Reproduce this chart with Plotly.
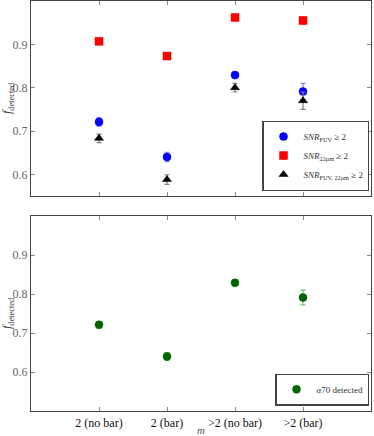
import plotly.graph_objects as go
from plotly.subplots import make_subplots

categories = ["2 (no bar)", "2 (bar)", ">2 (no bar)", ">2 (bar)"]
x_pos = [0, 1, 2, 3]

fuv = [0.721, 0.640, 0.829, 0.791]
fuv_err = [0.010, 0.011, 0.007, 0.019]
w22 = [0.907, 0.873, 0.962, 0.955]
w22_err = [0.004, 0.006, 0.003, 0.008]
both = [0.683, 0.588, 0.800, 0.770]
both_err = [0.010, 0.011, 0.010, 0.020]
a70 = [0.721, 0.640, 0.829, 0.791]
a70_err = [0.008, 0.010, 0.007, 0.019]

font = "Liberation Serif"

fig = make_subplots(rows=2, cols=1, vertical_spacing=0.0488)


def add_points(y, err, color, errcolor, symbol, name, row, legend):
    fig.add_trace(go.Scatter(
        x=x_pos, y=y, mode="markers", name=name,
        marker=dict(color=color, symbol=symbol, size=8,
                    line=dict(color=color, width=0.5)),
        error_y=dict(type="data", array=err, color=errcolor,
                     thickness=1.2, width=2.5),
        legend=legend,
    ), row=row, col=1)


add_points(fuv, fuv_err, "#0000ff", "#7f7fff", "circle",
           "<i>SNR</i><sub>FUV</sub> ≥ 2", 1, "legend")
add_points(w22, w22_err, "#ff0000", "#ff8080", "square",
           "<i>SNR</i><sub>22μm</sub> ≥ 2", 1, "legend")
add_points(both, both_err, "#000000", "#808080", "triangle-up",
           "<i>SNR</i><sub>FUV, 22μm</sub> ≥ 2", 1, "legend")
add_points(a70, a70_err, "#006400", "#6fbf6f", "circle",
           "<i>α</i>70 detected", 2, "legend2")

axis_style = dict(showline=True, linecolor="#444", linewidth=1.2, mirror="ticks",
                  ticks="inside", ticklen=4, tickcolor="#888",
                  showgrid=False, zeroline=False, automargin=False)

fig.update_xaxes(range=[-1, 4], tickvals=x_pos, ticktext=categories, **axis_style)
fig.update_xaxes(showticklabels=False, row=1, col=1)
fig.update_xaxes(title=dict(text="<i>m</i>", standoff=0,
                            font=dict(size=11, color="#555")),
                 tickfont=dict(size=12, color="#111"), row=2, col=1)
fig.update_yaxes(tickvals=[0.6, 0.7, 0.8, 0.9], ticktext=["0.6", "0.7", "0.8", "0.9"],
                 tickfont=dict(size=12, color="#666"),
                 title=dict(text="<i>f</i><sub>detected</sub>", standoff=2,
                            font=dict(size=12, color="#333")),
                 **axis_style)
fig.update_yaxes(range=[0.55, 1.0], row=1, col=1)
fig.update_yaxes(range=[0.5, 1.0], row=2, col=1)

legend_style = dict(bgcolor="white", bordercolor="#444", borderwidth=1.2,
                    font=dict(family=font, size=9, color="#333"),
                    xanchor="right", yanchor="bottom", tracegroupgap=0,
                    itemwidth=30)

fig.update_layout(
    width=374, height=436,
    margin=dict(l=31, r=3, t=1, b=25, autoexpand=False),
    paper_bgcolor="white", plot_bgcolor="white",
    font=dict(family=font, size=12, color="#222"),
    showlegend=True,
    legend=dict(x=0.995, y=0.537, **legend_style),
    legend2=dict(x=0.995, y=0.013, **legend_style),
)

fig.write_html("out.html", config={"displayModeBar": False},
               post_script="document.body.style.margin='0';")
